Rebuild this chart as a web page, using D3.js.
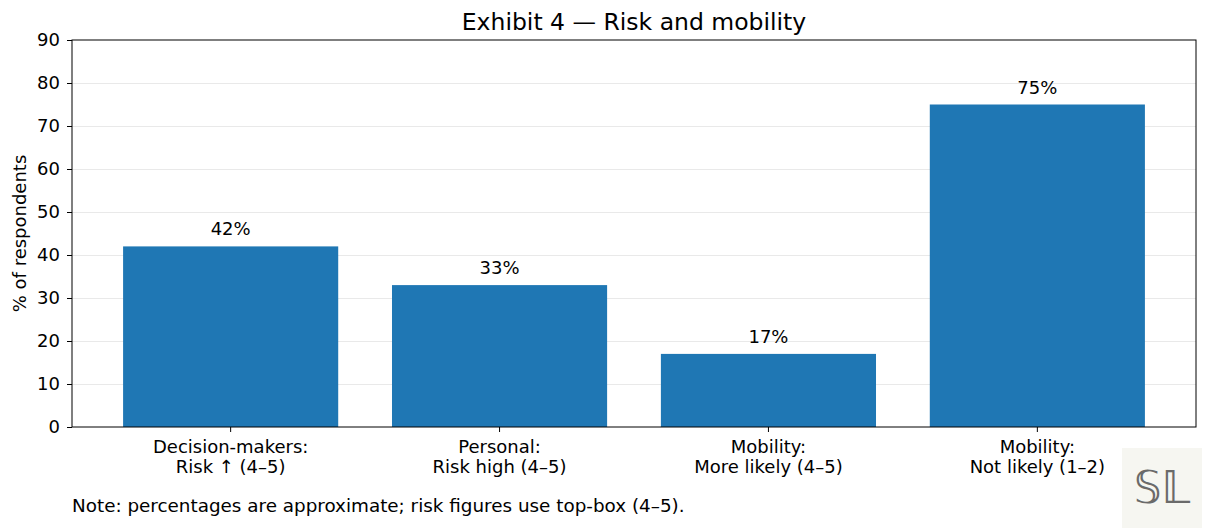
<!DOCTYPE html>
<html>
<head>
<meta charset="utf-8">
<script src="https://cdn.jsdelivr.net/npm/d3@7"></script>
<style>
  body { margin: 0; background: #fff; }
  text { font-family: "DejaVu Sans", sans-serif; fill: #000; }
</style>
</head>
<body>
<div id="chart"></div>
<script>
var width  = 1208;
var height = 528;

// data
var categories = [
  ["Decision-makers:", "Risk \u2191 (4\u20135)"],
  ["Personal:", "Risk high (4\u20135)"],
  ["Mobility:", "More likely (4\u20135)"],
  ["Mobility:", "Not likely (1\u20132)"]
];
var values = [42, 33, 17, 75];
var yTicks = [0, 10, 20, 30, 40, 50, 60, 70, 80, 90];

var margin = {left: 72, right: 12, top: 40, bottom: 101};
var plotW = width - margin.left - margin.right;
var plotH = height - margin.top - margin.bottom;
var barColor = "#1f77b4";
var fs = "18px";

var svg = d3.select("#chart").append("svg")
    .attr("width", width)
    .attr("height", height);

var g = svg.append("g")
    .attr("transform", "translate(" + margin.left + "," + margin.top + ")");

var x = d3.scaleBand()
    .domain(d3.range(categories.length))
    .range([0, plotW])
    .paddingInner(0.2)
    .paddingOuter(0.19);

var y = d3.scaleLinear()
    .domain([0, 90])
    .range([plotH, 0]);

// grid
g.selectAll(".grid")
  .data(yTicks.slice(1, -1))
  .enter()
  .append("line")
  .attr("class", "grid")
  .attr("x1", 0)
  .attr("x2", plotW)
  .attr("y1", function(d) { return y(d) + 0.5; })
  .attr("y2", function(d) { return y(d) + 0.5; })
  .attr("stroke", "#e3e3e3")
  .attr("stroke-width", 0.8);

// bars
g.selectAll(".bar")
  .data(values)
  .enter()
  .append("rect")
  .attr("class", "bar")
  .attr("x", function(d, i) { return x(i); })
  .attr("y", function(d) { return y(d); })
  .attr("width", x.bandwidth())
  .attr("height", function(d) { return plotH - y(d); })
  .attr("fill", barColor);

// value labels
g.selectAll(".val")
  .data(values)
  .enter()
  .append("text")
  .attr("class", "val")
  .attr("x", function(d, i) { return x(i) + x.bandwidth() / 2; })
  .attr("y", function(d) { return y(d) - 11; })
  .attr("text-anchor", "middle")
  .style("font-size", fs)
  .text(function(d) { return d + "%"; });

// y axis
var yAxis = g.append("g")
    .call(d3.axisLeft(y).tickValues(yTicks).tickSize(5).tickPadding(7));
yAxis.select(".domain").remove();
yAxis.selectAll("text").style("font-size", fs).style("font-family", "DejaVu Sans");
yAxis.selectAll("line").attr("stroke", "#000").attr("stroke-width", 1);

// x axis
var xAxis = g.append("g")
    .attr("transform", "translate(0," + plotH + ")")
    .call(d3.axisBottom(x).tickSize(5).tickFormat(""));
xAxis.select(".domain").remove();
xAxis.selectAll("line").attr("stroke", "#000");

xAxis.selectAll(".tick").each(function(d) {
  var t = d3.select(this).append("text")
      .attr("fill", "#000")
      .attr("text-anchor", "middle")
      .style("font-size", fs)
      .style("font-family", "DejaVu Sans");
  categories[d].forEach(function(line, j) {
    t.append("tspan")
      .attr("x", 0)
      .attr("y", 26 + j * 20)
      .text(line);
  });
});

// frame
g.append("rect")
  .attr("width", plotW)
  .attr("height", plotH)
  .attr("fill", "none")
  .attr("stroke", "#000")
  .attr("stroke-width", 1);

// title
svg.append("text")
  .attr("x", margin.left + plotW / 2)
  .attr("y", 30)
  .attr("text-anchor", "middle")
  .style("font-size", "23.5px")
  .text("Exhibit 4 \u2014 Risk and mobility");

// y label
svg.append("text")
  .attr("transform", "translate(26," + (margin.top + plotH / 2) + ") rotate(-90)")
  .attr("text-anchor", "middle")
  .style("font-size", fs)
  .text("% of respondents");

// note
svg.append("text")
  .attr("x", 72)
  .attr("y", 512)
  .style("font-size", "18.35px")
  .text("Note: percentages are approximate; risk figures use top-box (4\u20135).");

// logo
svg.append("rect")
  .attr("x", 1122)
  .attr("y", 448)
  .attr("width", 80)
  .attr("height", 80)
  .attr("fill", "#f6f6f1");
svg.append("text")
  .attr("x", 1162)
  .attr("y", 503)
  .attr("text-anchor", "middle")
  .style("font-size", "44px")
  .style("fill", "#6a6a6a")
  .text("\ud835\udd4a\ud835\udd43");
</script>
</body>
</html>
